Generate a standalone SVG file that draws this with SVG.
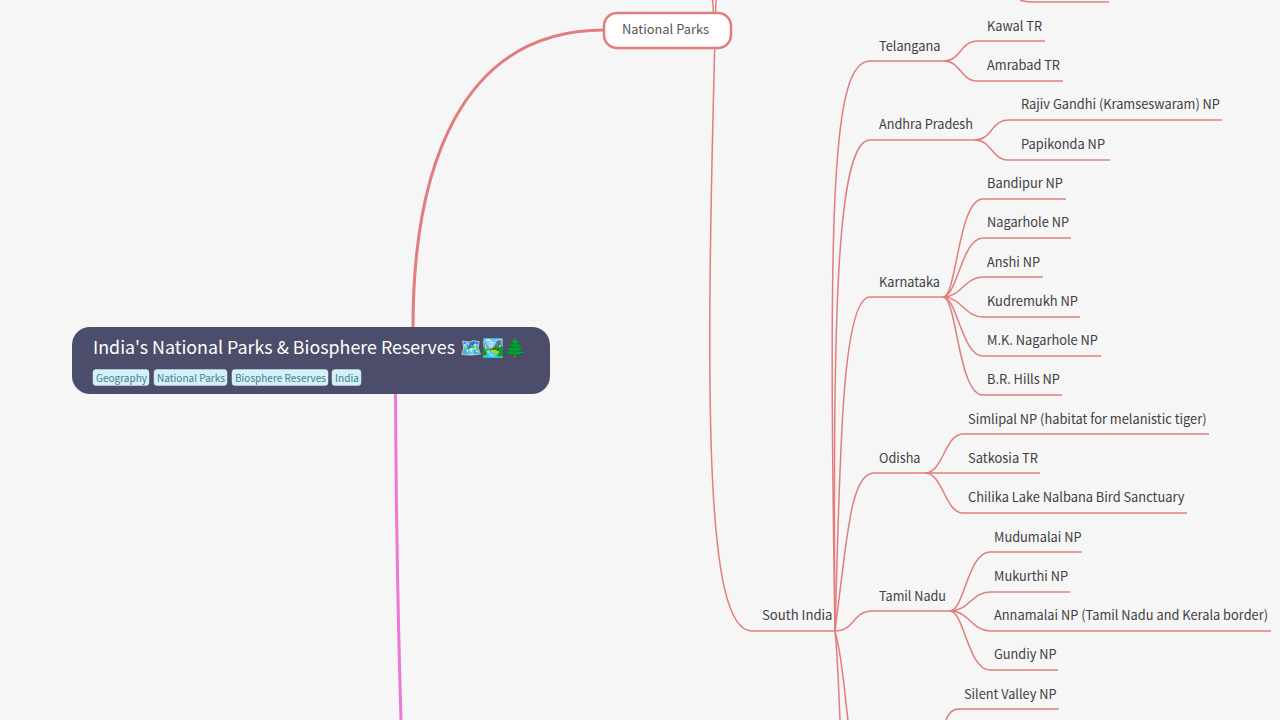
<svg xmlns="http://www.w3.org/2000/svg" width="1280" height="720" viewBox="0 0 1280 720">
<style>
text{font-family:"Noto Sans CJK SC","Noto Sans",sans-serif;font-size:13.200px;fill:#404040}
.c{fill:none;stroke:#e27d7d;stroke-width:1.5}
.tag{fill:#d4f1f7;stroke:#c9e6ee;stroke-width:.5}
.tagt{font-size:10px;fill:#3d8093}
</style>
<rect width="1280" height="720" fill="#f6f6f6"/>
<g id="connectors">
<path d="M413 327C413 165 462 30 604 30" fill="none" stroke="#e27d7d" stroke-width="3"/>
<path d="M395.500 394C396 500 398 620 401 720" fill="none" stroke="#ec77d5" stroke-width="3"/>
<path class="c" d="M716 0C705 400 704 631 752 631H835"/>
<path class="c" d="M713.500 14C713.500 9 713 4 712.500 0"/>
<path class="c" d="M835 631C828 200 832 61 870 61H944"/>
<path class="c" d="M835 631C832 300 838 140 870 140H975"/>
<path class="c" d="M835 631C840 480 840 297 870 297H943"/>
<path class="c" d="M835 631C847 540 850 473 874 473H925"/>
<path class="c" d="M835 631C855 631 852 611 873 611H950"/>
<path class="c" d="M835 631C838 660 839 700 840 720"/>
<path class="c" d="M835 631C843 660 845 700 848 720"/>
<path class="c" d="M944 61C961 61 960 41 978 41H1045"/><path class="c" d="M944 61C961 61 960 81 978 81H1063"/>
<path class="c" d="M975 140C992 140 991 120 1009 120H1222"/><path class="c" d="M975 140C992 140 991 160 1009 160H1110"/>
<path class="c" d="M943 297C957 297 958 199 983 199H1066"/><path class="c" d="M943 297C957 297 962 238 983 238H1071"/>
<path class="c" d="M943 297C961 297 965 277 983 277H1043"/><path class="c" d="M943 297C961 297 965 317 983 317H1080"/>
<path class="c" d="M943 297C957 297 962 356 983 356H1101"/><path class="c" d="M943 297C957 297 958 395 983 395H1062"/>
<path class="c" d="M925 473C943 473 945 434 963 434H1209"/><path class="c" d="M925 473H1040"/><path class="c" d="M925 473C943 473 945 513 963 513H1187"/>
<path class="c" d="M950 611C964 611 968 552 990 552H1082"/><path class="c" d="M950 611C969 611 972 592 990 592H1070"/><path class="c" d="M950 611C969 611 972 631 990 631H1271"/><path class="c" d="M950 611C964 611 968 670 990 670H1058"/>
<path class="c" d="M946 720C949 713 952 709 959 709H1059"/>
<path class="c" d="M1020 0C1025 2 1030 2 1036 2H1109"/>
</g>
<g id="root"><rect x="72" y="327" width="478" height="67" rx="18" fill="#4c4d6b"/>
<text x="93" y="354" style="font-size:17.800px;fill:#fff"><tspan textLength="362" lengthAdjust="spacingAndGlyphs">India's National Parks &amp; Biosphere Reserves</tspan> <tspan x="460" style="font-size:17.800px">🗺️🏞️🌲</tspan></text>
<rect class="tag" x="93" y="369.500" width="56" height="16" rx="3"/><text class="tagt" x="96" y="382" textLength="51" lengthAdjust="spacingAndGlyphs">Geography</text>
<rect class="tag" x="154" y="369.500" width="73" height="16" rx="3"/><text class="tagt" x="157" y="382" textLength="68" lengthAdjust="spacingAndGlyphs">National Parks</text>
<rect class="tag" x="232" y="369.500" width="96" height="16" rx="3"/><text class="tagt" x="235" y="382" textLength="91" lengthAdjust="spacingAndGlyphs">Biosphere Reserves</text>
<rect class="tag" x="332" y="369.500" width="29" height="16" rx="3"/><text class="tagt" x="335" y="382" textLength="24" lengthAdjust="spacingAndGlyphs">India</text></g>
<g id="national-parks"><rect x="604" y="13" width="127" height="35" rx="13" fill="#fff" stroke="#e27d7d" stroke-width="2.500"/><text x="622" y="34" textLength="87" lengthAdjust="spacingAndGlyphs" style="font-size:13px;fill:#555">National Parks</text></g>
<g id="south-india"><text x="762" y="620" textLength="70.500" lengthAdjust="spacingAndGlyphs">South India</text></g>
<g id="telangana"><text x="879" y="51" textLength="61.500" lengthAdjust="spacingAndGlyphs">Telangana</text></g>
<g id="andhra"><text x="879" y="129" textLength="94" lengthAdjust="spacingAndGlyphs">Andhra Pradesh</text></g>
<g id="karnataka"><text x="879" y="287" textLength="61" lengthAdjust="spacingAndGlyphs">Karnataka</text></g>
<g id="odisha"><text x="879" y="463" textLength="41.500" lengthAdjust="spacingAndGlyphs">Odisha</text></g>
<g id="tamil"><text x="879" y="601" textLength="67" lengthAdjust="spacingAndGlyphs">Tamil Nadu</text></g>
<g id="kawal"><text x="987" y="31" textLength="55" lengthAdjust="spacingAndGlyphs">Kawal TR</text></g>
<g id="amrabad"><text x="987" y="70" textLength="73" lengthAdjust="spacingAndGlyphs">Amrabad TR</text></g>
<g id="rajiv"><text x="1021" y="109" textLength="199" lengthAdjust="spacingAndGlyphs">Rajiv Gandhi (Kramseswaram) NP</text></g>
<g id="papikonda"><text x="1021" y="149" textLength="84" lengthAdjust="spacingAndGlyphs">Papikonda NP</text></g>
<g id="bandipur"><text x="987" y="188" textLength="76" lengthAdjust="spacingAndGlyphs">Bandipur NP</text></g>
<g id="nagarhole"><text x="987" y="227" textLength="82" lengthAdjust="spacingAndGlyphs">Nagarhole NP</text></g>
<g id="anshi"><text x="987" y="267" textLength="53" lengthAdjust="spacingAndGlyphs">Anshi NP</text></g>
<g id="kudremukh"><text x="987" y="306" textLength="91" lengthAdjust="spacingAndGlyphs">Kudremukh NP</text></g>
<g id="mk"><text x="987" y="345" textLength="111" lengthAdjust="spacingAndGlyphs">M.K. Nagarhole NP</text></g>
<g id="br"><text x="987" y="384" textLength="73" lengthAdjust="spacingAndGlyphs">B.R. Hills NP</text></g>
<g id="simlipal"><text x="968" y="424" textLength="238.500" lengthAdjust="spacingAndGlyphs">Simlipal NP (habitat for melanistic tiger)</text></g>
<g id="satkosia"><text x="968" y="463" textLength="70" lengthAdjust="spacingAndGlyphs">Satkosia TR</text></g>
<g id="chilika"><text x="968" y="502" textLength="216.500" lengthAdjust="spacingAndGlyphs">Chilika Lake Nalbana Bird Sanctuary</text></g>
<g id="mudumalai"><text x="994" y="542" textLength="87.500" lengthAdjust="spacingAndGlyphs">Mudumalai NP</text></g>
<g id="mukurthi"><text x="994" y="581" textLength="74" lengthAdjust="spacingAndGlyphs">Mukurthi NP</text></g>
<g id="annamalai"><text x="994" y="620" textLength="274" lengthAdjust="spacingAndGlyphs">Annamalai NP (Tamil Nadu and Kerala border)</text></g>
<g id="gundiy"><text x="994" y="659" textLength="62.500" lengthAdjust="spacingAndGlyphs">Gundiy NP</text></g>
<g id="silent"><text x="964" y="699" textLength="92.500" lengthAdjust="spacingAndGlyphs">Silent Valley NP</text></g>
</svg>
